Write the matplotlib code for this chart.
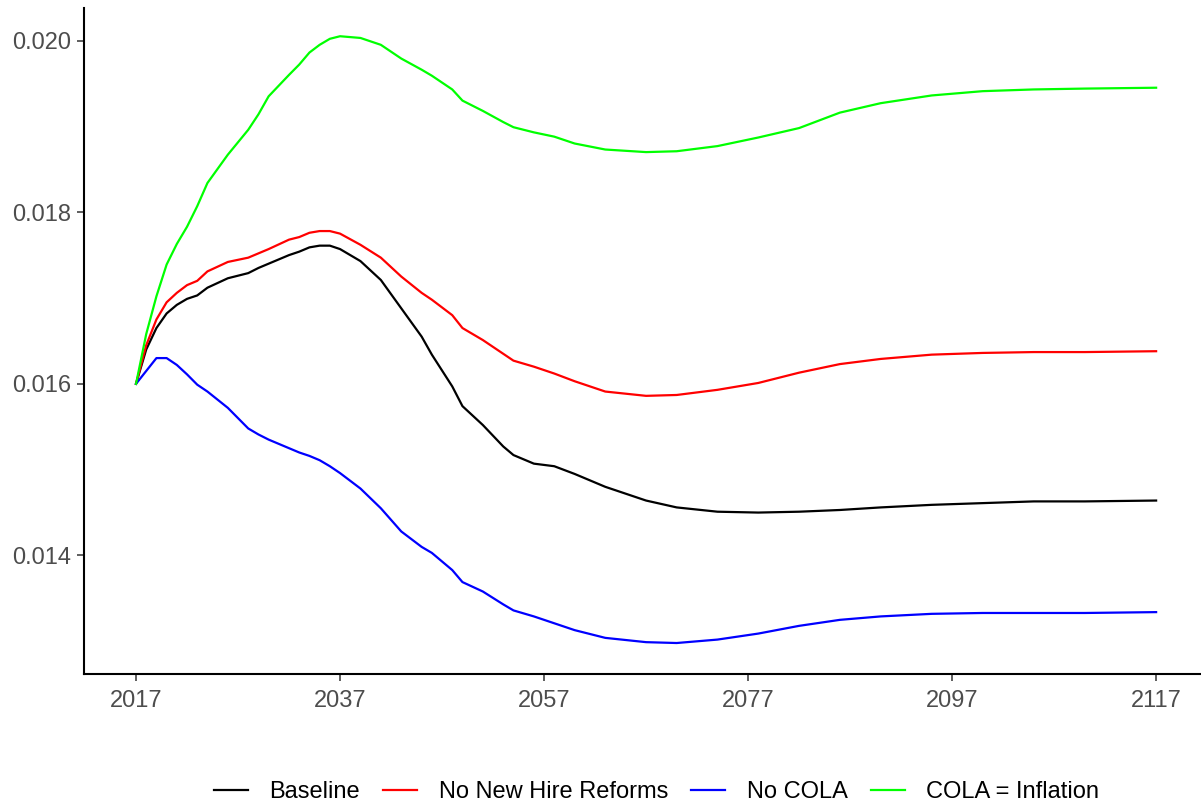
import matplotlib
matplotlib.use("Agg")
import matplotlib.pyplot as plt

years = [2017, 2018, 2019, 2020, 2021, 2022, 2023, 2024, 2026, 2028, 2029, 2030,
         2032, 2033, 2034, 2035, 2036, 2037, 2039, 2041, 2043, 2045, 2046, 2048,
         2049, 2051, 2053, 2054, 2056, 2058, 2060, 2063, 2067, 2070, 2074, 2078,
         2082, 2086, 2090, 2095, 2100, 2105, 2110, 2117]

baseline = [.01600, .01640, .01665, .01682, .01692, .01699, .01703, .01712, .01723,
            .01729, .01735, .01740, .01750, .01754, .01759, .01761, .01761, .01757,
            .01743, .01721, .01688, .01655, .01634, .01597, .01574, .01552, .01527,
            .01517, .01507, .01504, .01495, .01480, .01464, .01456, .01451, .01450,
            .01451, .01453, .01456, .01459, .01461, .01463, .01463, .01464]

no_new_hire = [.01600, .01645, .01675, .01695, .01706, .01715, .01720, .01731, .01742,
               .01747, .01752, .01757, .01768, .01771, .01776, .01778, .01778, .01775,
               .01762, .01747, .01725, .01706, .01698, .01680, .01665, .01651, .01635,
               .01627, .01620, .01612, .01603, .01591, .01586, .01587, .01593, .01601,
               .01613, .01623, .01629, .01634, .01636, .01637, .01637, .01638]

no_cola = [.01600, .01615, .01630, .01630, .01622, .01611, .01599, .01591, .01572,
           .01548, .01541, .01535, .01525, .01520, .01516, .01511, .01504, .01496,
           .01478, .01455, .01428, .01410, .01403, .01383, .01369, .01358, .01343,
           .01336, .01329, .01321, .01313, .01304, .01299, .01298, .01302, .01309,
           .01318, .01325, .01329, .01332, .01333, .01333, .01333, .01334]

cola_inflation = [.01600, .01658, .01702, .01739, .01763, .01783, .01807, .01834, .01867,
                  .01896, .01914, .01935, .01960, .01972, .01986, .01995, .02002, .02005,
                  .02003, .01995, .01979, .01966, .01959, .01943, .01930, .01918, .01905,
                  .01899, .01893, .01888, .01880, .01873, .01870, .01871, .01877, .01887,
                  .01898, .01916, .01927, .01936, .01941, .01943, .01944, .01945]

series_names = ["Baseline", "No New Hire Reforms", "No COLA", "COLA = Inflation"]
series_colors = ["#000000", "#FF0000", "#0000FF", "#00FF00"]
x_ticks = [2017, 2037, 2057, 2077, 2097, 2117]
y_ticks = [0.014, 0.016, 0.018, 0.020]

plt.rcParams['font.family'] = ['Liberation Sans', 'DejaVu Sans']

W, H = 1201, 808
fig = plt.figure(figsize=(W / 100, H / 100), dpi=100)
ax_left, ax_right, ax_top, ax_bottom = 84, 1201, 8, 674
ax = fig.add_axes([ax_left / W, 1 - ax_bottom / H, (ax_right - ax_left) / W, (ax_bottom - ax_top) / H])

handles = []
for vals, name, col in zip([baseline, no_new_hire, no_cola, cola_inflation], series_names, series_colors):
    h, = ax.plot(years, vals, color=col, lw=1.6, label=name, solid_joinstyle='round')
    handles.append(h)

ax.set_xlim(2011.9, 2121.4)
ax.set_ylim(0.012619, 0.020379)
ax.set_xticks(x_ticks)
ax.set_xticklabels([str(t) for t in x_ticks])
ax.set_yticks(y_ticks)
ax.set_yticklabels([f"{t:.3f}" for t in y_ticks])

for s in ['top', 'right']:
    ax.spines[s].set_visible(False)
for s in ['left', 'bottom']:
    ax.spines[s].set_linewidth(1.5)
    ax.spines[s].set_color('black')

ax.tick_params(axis='both', length=5, width=1.1, color='#333333',
               labelsize=17, labelcolor='#4D4D4D')
ax.tick_params(axis='y', pad=4.5)
ax.tick_params(axis='x', pad=6.5)

fig.legend(handles=handles, labels=series_names, loc='center',
           bbox_to_anchor=(656.5 / W, 1 - 792 / H), ncol=4, frameon=False,
           fontsize=17, handlelength=1.45, handletextpad=0.9, columnspacing=0.98,
           borderaxespad=0, borderpad=0)

fig.savefig("out.png", dpi=100)
